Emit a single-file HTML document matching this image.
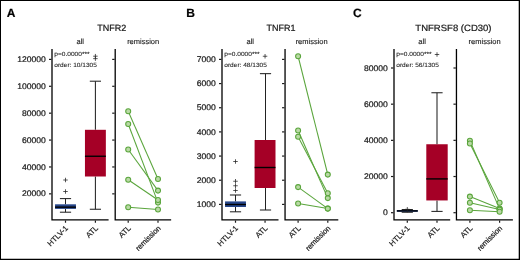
<!DOCTYPE html>
<html lang="en"><head><meta charset="utf-8"><title>TNFR2, TNFR1, TNFRSF8 (CD30)</title>
<style>html,body{margin:0;padding:0;background:#fff;}body{width:520px;height:260px;overflow:hidden;}svg{display:block;}text{text-rendering:geometricPrecision;stroke:#1a1a1a;stroke-width:0.22px;font-family:'Liberation Sans', Arial, Helvetica, sans-serif;}</style>
</head><body>
<svg width="520" height="260" viewBox="0 0 520 260">
<rect x="0" y="0" width="520" height="260" fill="#fff"/>
<text x="6.80" y="17" font-size="12" text-anchor="start" font-weight="bold" fill="#000" >A</text>
<text x="111.85" y="30.8" font-size="9" text-anchor="middle" font-weight="normal" fill="#1a1a1a" >TNFR2</text>
<text x="80.30" y="43.7" font-size="7.5" text-anchor="middle" font-weight="normal" fill="#1a1a1a" style="stroke-width:0.12px">all</text>
<text x="143.18" y="43.7" font-size="7.5" text-anchor="middle" font-weight="normal" fill="#1a1a1a" style="stroke-width:0.12px">remission</text>
<polyline points="52.0,48.9 52.0,219.85 108.6,219.85" fill="none" stroke="#000" stroke-width="1.3" stroke-linejoin="miter"/>
<line x1="49.00" y1="59.40" x2="51.40" y2="59.40" stroke="#1a1a1a" stroke-width="1.2"/>
<line x1="49.00" y1="86.29" x2="51.40" y2="86.29" stroke="#1a1a1a" stroke-width="1.2"/>
<line x1="49.00" y1="113.18" x2="51.40" y2="113.18" stroke="#1a1a1a" stroke-width="1.2"/>
<line x1="49.00" y1="140.07" x2="51.40" y2="140.07" stroke="#1a1a1a" stroke-width="1.2"/>
<line x1="49.00" y1="166.96" x2="51.40" y2="166.96" stroke="#1a1a1a" stroke-width="1.2"/>
<line x1="49.00" y1="193.85" x2="51.40" y2="193.85" stroke="#1a1a1a" stroke-width="1.2"/>
<polyline points="115.2,48.9 115.2,219.85 171.15,219.85" fill="none" stroke="#000" stroke-width="1.3" stroke-linejoin="miter"/>
<line x1="112.20" y1="59.40" x2="114.60" y2="59.40" stroke="#1a1a1a" stroke-width="1.2"/>
<line x1="112.20" y1="86.29" x2="114.60" y2="86.29" stroke="#1a1a1a" stroke-width="1.2"/>
<line x1="112.20" y1="113.18" x2="114.60" y2="113.18" stroke="#1a1a1a" stroke-width="1.2"/>
<line x1="112.20" y1="140.07" x2="114.60" y2="140.07" stroke="#1a1a1a" stroke-width="1.2"/>
<line x1="112.20" y1="166.96" x2="114.60" y2="166.96" stroke="#1a1a1a" stroke-width="1.2"/>
<line x1="112.20" y1="193.85" x2="114.60" y2="193.85" stroke="#1a1a1a" stroke-width="1.2"/>
<text transform="translate(45.9,62.00) scale(1.05,1)" font-size="8.2" text-anchor="end" fill="#1a1a1a">120000</text>
<text transform="translate(45.9,88.89) scale(1.05,1)" font-size="8.2" text-anchor="end" fill="#1a1a1a">100000</text>
<text transform="translate(45.9,115.78) scale(1.05,1)" font-size="8.2" text-anchor="end" fill="#1a1a1a">80000</text>
<text transform="translate(45.9,142.67) scale(1.05,1)" font-size="8.2" text-anchor="end" fill="#1a1a1a">60000</text>
<text transform="translate(45.9,169.56) scale(1.05,1)" font-size="8.2" text-anchor="end" fill="#1a1a1a">40000</text>
<text transform="translate(45.9,196.45) scale(1.05,1)" font-size="8.2" text-anchor="end" fill="#1a1a1a">20000</text>
<line x1="65.50" y1="220.45" x2="65.50" y2="222.75" stroke="#1a1a1a" stroke-width="1.2"/>
<line x1="95.40" y1="220.45" x2="95.40" y2="222.75" stroke="#1a1a1a" stroke-width="1.2"/>
<line x1="128.20" y1="220.45" x2="128.20" y2="222.75" stroke="#1a1a1a" stroke-width="1.2"/>
<line x1="158.00" y1="220.45" x2="158.00" y2="222.75" stroke="#1a1a1a" stroke-width="1.2"/>
<text transform="translate(68.6,228.7) rotate(-45)" font-size="7.7" text-anchor="end" fill="#1a1a1a">HTLV-1</text>
<text transform="translate(98.5,228.7) rotate(-45)" font-size="7.7" text-anchor="end" fill="#1a1a1a">ATL</text>
<text transform="translate(131.29999999999998,228.7) rotate(-45)" font-size="7.7" text-anchor="end" fill="#1a1a1a">ATL</text>
<text transform="translate(161.1,228.7) rotate(-45)" font-size="7.45" text-anchor="end" fill="#1a1a1a">remission</text>
<text x="54.30" y="55.8" font-size="6.15" text-anchor="start" font-weight="normal" fill="#1a1a1a" style="stroke-width:0.08px" textLength="35.3" lengthAdjust="spacingAndGlyphs">p=0.0000***</text>
<text x="54.30" y="67.1" font-size="6.15" text-anchor="start" font-weight="normal" fill="#1a1a1a" style="stroke-width:0.08px" textLength="42.6" lengthAdjust="spacingAndGlyphs">order: 10/1305</text>
<line x1="65.50" y1="198.60" x2="65.50" y2="204.30" stroke="#222" stroke-width="1.05"/>
<line x1="65.50" y1="208.90" x2="65.50" y2="212.20" stroke="#222" stroke-width="1.05"/>
<line x1="59.90" y1="198.60" x2="71.10" y2="198.60" stroke="#222" stroke-width="1.05"/>
<line x1="59.90" y1="212.20" x2="71.10" y2="212.20" stroke="#222" stroke-width="1.05"/>
<rect x="55.05" y="204.3" width="20.9" height="4.60" fill="#26468a"/>
<line x1="55.05" y1="207.15" x2="75.95" y2="207.15" stroke="#000" stroke-width="1.4"/>
<line x1="95.40" y1="81.20" x2="95.40" y2="129.80" stroke="#222" stroke-width="1.05"/>
<line x1="95.40" y1="176.50" x2="95.40" y2="209.25" stroke="#222" stroke-width="1.05"/>
<line x1="89.80" y1="81.20" x2="101.00" y2="81.20" stroke="#222" stroke-width="1.05"/>
<line x1="89.80" y1="209.25" x2="101.00" y2="209.25" stroke="#222" stroke-width="1.05"/>
<rect x="84.95" y="129.8" width="20.9" height="46.70" fill="#a50026"/>
<line x1="84.95" y1="156.25" x2="105.85" y2="156.25" stroke="#000" stroke-width="1.4"/>
<line x1="63.25" y1="180.00" x2="67.75" y2="180.00" stroke="#222" stroke-width="0.75"/>
<line x1="65.50" y1="177.75" x2="65.50" y2="182.25" stroke="#222" stroke-width="0.75"/>
<line x1="63.25" y1="191.50" x2="67.75" y2="191.50" stroke="#222" stroke-width="0.75"/>
<line x1="65.50" y1="189.25" x2="65.50" y2="193.75" stroke="#222" stroke-width="0.75"/>
<line x1="93.15" y1="56.20" x2="97.65" y2="56.20" stroke="#222" stroke-width="0.75"/>
<line x1="95.40" y1="53.95" x2="95.40" y2="58.45" stroke="#222" stroke-width="0.75"/>
<line x1="93.15" y1="58.65" x2="97.65" y2="58.65" stroke="#222" stroke-width="0.75"/>
<line x1="95.40" y1="56.40" x2="95.40" y2="60.90" stroke="#222" stroke-width="0.75"/>
<line x1="128.20" y1="111.20" x2="158.00" y2="179.00" stroke="#5aa53c" stroke-width="1.05"/>
<line x1="128.20" y1="124.00" x2="158.00" y2="202.60" stroke="#5aa53c" stroke-width="1.05"/>
<line x1="128.20" y1="149.50" x2="158.00" y2="190.60" stroke="#5aa53c" stroke-width="1.05"/>
<line x1="128.20" y1="179.70" x2="158.00" y2="200.00" stroke="#5aa53c" stroke-width="1.05"/>
<line x1="128.20" y1="207.30" x2="158.00" y2="209.50" stroke="#5aa53c" stroke-width="1.05"/>
<circle cx="128.2" cy="111.2" r="2.5" fill="#b9d9a5" stroke="#5aa53c" stroke-width="1.05"/>
<circle cx="158.0" cy="179" r="2.5" fill="#b9d9a5" stroke="#5aa53c" stroke-width="1.05"/>
<circle cx="128.2" cy="124" r="2.5" fill="#b9d9a5" stroke="#5aa53c" stroke-width="1.05"/>
<circle cx="158.0" cy="202.6" r="2.5" fill="#b9d9a5" stroke="#5aa53c" stroke-width="1.05"/>
<circle cx="128.2" cy="149.5" r="2.5" fill="#b9d9a5" stroke="#5aa53c" stroke-width="1.05"/>
<circle cx="158.0" cy="190.6" r="2.5" fill="#b9d9a5" stroke="#5aa53c" stroke-width="1.05"/>
<circle cx="128.2" cy="179.7" r="2.5" fill="#b9d9a5" stroke="#5aa53c" stroke-width="1.05"/>
<circle cx="158.0" cy="200" r="2.5" fill="#b9d9a5" stroke="#5aa53c" stroke-width="1.05"/>
<circle cx="128.2" cy="207.3" r="2.5" fill="#b9d9a5" stroke="#5aa53c" stroke-width="1.05"/>
<circle cx="158.0" cy="209.5" r="2.5" fill="#b9d9a5" stroke="#5aa53c" stroke-width="1.05"/>
<text x="186.20" y="17" font-size="12" text-anchor="start" font-weight="bold" fill="#000" >B</text>
<text x="281.00" y="30.8" font-size="9" text-anchor="middle" font-weight="normal" fill="#1a1a1a" >TNFR1</text>
<text x="250.25" y="43.7" font-size="7.5" text-anchor="middle" font-weight="normal" fill="#1a1a1a" style="stroke-width:0.12px">all</text>
<text x="311.68" y="43.7" font-size="7.5" text-anchor="middle" font-weight="normal" fill="#1a1a1a" style="stroke-width:0.12px">remission</text>
<polyline points="222.0,48.9 222.0,219.85 278.5,219.85" fill="none" stroke="#000" stroke-width="1.3" stroke-linejoin="miter"/>
<line x1="219.00" y1="59.40" x2="221.40" y2="59.40" stroke="#1a1a1a" stroke-width="1.2"/>
<line x1="219.00" y1="83.57" x2="221.40" y2="83.57" stroke="#1a1a1a" stroke-width="1.2"/>
<line x1="219.00" y1="107.73" x2="221.40" y2="107.73" stroke="#1a1a1a" stroke-width="1.2"/>
<line x1="219.00" y1="131.90" x2="221.40" y2="131.90" stroke="#1a1a1a" stroke-width="1.2"/>
<line x1="219.00" y1="156.07" x2="221.40" y2="156.07" stroke="#1a1a1a" stroke-width="1.2"/>
<line x1="219.00" y1="180.23" x2="221.40" y2="180.23" stroke="#1a1a1a" stroke-width="1.2"/>
<line x1="219.00" y1="204.40" x2="221.40" y2="204.40" stroke="#1a1a1a" stroke-width="1.2"/>
<polyline points="285.05,48.9 285.05,219.85 338.3,219.85" fill="none" stroke="#000" stroke-width="1.3" stroke-linejoin="miter"/>
<line x1="282.05" y1="59.40" x2="284.45" y2="59.40" stroke="#1a1a1a" stroke-width="1.2"/>
<line x1="282.05" y1="83.57" x2="284.45" y2="83.57" stroke="#1a1a1a" stroke-width="1.2"/>
<line x1="282.05" y1="107.73" x2="284.45" y2="107.73" stroke="#1a1a1a" stroke-width="1.2"/>
<line x1="282.05" y1="131.90" x2="284.45" y2="131.90" stroke="#1a1a1a" stroke-width="1.2"/>
<line x1="282.05" y1="156.07" x2="284.45" y2="156.07" stroke="#1a1a1a" stroke-width="1.2"/>
<line x1="282.05" y1="180.23" x2="284.45" y2="180.23" stroke="#1a1a1a" stroke-width="1.2"/>
<line x1="282.05" y1="204.40" x2="284.45" y2="204.40" stroke="#1a1a1a" stroke-width="1.2"/>
<text transform="translate(215.9,62.00) scale(1.05,1)" font-size="8.2" text-anchor="end" fill="#1a1a1a">7000</text>
<text transform="translate(215.9,86.17) scale(1.05,1)" font-size="8.2" text-anchor="end" fill="#1a1a1a">6000</text>
<text transform="translate(215.9,110.33) scale(1.05,1)" font-size="8.2" text-anchor="end" fill="#1a1a1a">5000</text>
<text transform="translate(215.9,134.50) scale(1.05,1)" font-size="8.2" text-anchor="end" fill="#1a1a1a">4000</text>
<text transform="translate(215.9,158.67) scale(1.05,1)" font-size="8.2" text-anchor="end" fill="#1a1a1a">3000</text>
<text transform="translate(215.9,182.83) scale(1.05,1)" font-size="8.2" text-anchor="end" fill="#1a1a1a">2000</text>
<text transform="translate(215.9,207.00) scale(1.05,1)" font-size="8.2" text-anchor="end" fill="#1a1a1a">1000</text>
<line x1="235.50" y1="220.45" x2="235.50" y2="222.75" stroke="#1a1a1a" stroke-width="1.2"/>
<line x1="265.05" y1="220.45" x2="265.05" y2="222.75" stroke="#1a1a1a" stroke-width="1.2"/>
<line x1="298.10" y1="220.45" x2="298.10" y2="222.75" stroke="#1a1a1a" stroke-width="1.2"/>
<line x1="327.80" y1="220.45" x2="327.80" y2="222.75" stroke="#1a1a1a" stroke-width="1.2"/>
<text transform="translate(238.6,228.7) rotate(-45)" font-size="7.7" text-anchor="end" fill="#1a1a1a">HTLV-1</text>
<text transform="translate(268.15000000000003,228.7) rotate(-45)" font-size="7.7" text-anchor="end" fill="#1a1a1a">ATL</text>
<text transform="translate(301.20000000000005,228.7) rotate(-45)" font-size="7.7" text-anchor="end" fill="#1a1a1a">ATL</text>
<text transform="translate(330.90000000000003,228.7) rotate(-45)" font-size="7.45" text-anchor="end" fill="#1a1a1a">remission</text>
<text x="224.30" y="55.8" font-size="6.15" text-anchor="start" font-weight="normal" fill="#1a1a1a" style="stroke-width:0.08px" textLength="35.3" lengthAdjust="spacingAndGlyphs">p=0.0000***</text>
<text x="224.30" y="67.1" font-size="6.15" text-anchor="start" font-weight="normal" fill="#1a1a1a" style="stroke-width:0.08px" textLength="42.6" lengthAdjust="spacingAndGlyphs">order: 48/1305</text>
<line x1="235.50" y1="195.00" x2="235.50" y2="201.40" stroke="#222" stroke-width="1.05"/>
<line x1="235.50" y1="207.00" x2="235.50" y2="211.80" stroke="#222" stroke-width="1.05"/>
<line x1="229.90" y1="195.00" x2="241.10" y2="195.00" stroke="#222" stroke-width="1.05"/>
<line x1="229.90" y1="211.80" x2="241.10" y2="211.80" stroke="#222" stroke-width="1.05"/>
<rect x="225.05" y="201.4" width="20.9" height="5.60" fill="#26468a"/>
<line x1="225.05" y1="204.50" x2="245.95" y2="204.50" stroke="#000" stroke-width="1.4"/>
<line x1="265.50" y1="73.65" x2="265.50" y2="140.00" stroke="#222" stroke-width="1.05"/>
<line x1="265.50" y1="188.00" x2="265.50" y2="210.00" stroke="#222" stroke-width="1.05"/>
<line x1="259.90" y1="73.65" x2="271.10" y2="73.65" stroke="#222" stroke-width="1.05"/>
<line x1="259.90" y1="210.00" x2="271.10" y2="210.00" stroke="#222" stroke-width="1.05"/>
<rect x="254.60" y="140" width="20.9" height="48.00" fill="#a50026"/>
<line x1="254.60" y1="167.50" x2="275.50" y2="167.50" stroke="#000" stroke-width="1.4"/>
<line x1="233.25" y1="161.50" x2="237.75" y2="161.50" stroke="#222" stroke-width="0.75"/>
<line x1="235.50" y1="159.25" x2="235.50" y2="163.75" stroke="#222" stroke-width="0.75"/>
<line x1="233.25" y1="181.25" x2="237.75" y2="181.25" stroke="#222" stroke-width="0.75"/>
<line x1="235.50" y1="179.00" x2="235.50" y2="183.50" stroke="#222" stroke-width="0.75"/>
<line x1="233.25" y1="185.75" x2="237.75" y2="185.75" stroke="#222" stroke-width="0.75"/>
<line x1="235.50" y1="183.50" x2="235.50" y2="188.00" stroke="#222" stroke-width="0.75"/>
<line x1="233.25" y1="190.50" x2="237.75" y2="190.50" stroke="#222" stroke-width="0.75"/>
<line x1="235.50" y1="188.25" x2="235.50" y2="192.75" stroke="#222" stroke-width="0.75"/>
<line x1="262.80" y1="56.25" x2="267.30" y2="56.25" stroke="#222" stroke-width="0.75"/>
<line x1="265.05" y1="54.00" x2="265.05" y2="58.50" stroke="#222" stroke-width="0.75"/>
<line x1="298.10" y1="56.25" x2="327.80" y2="174.60" stroke="#5aa53c" stroke-width="1.05"/>
<line x1="298.10" y1="130.50" x2="327.80" y2="198.10" stroke="#5aa53c" stroke-width="1.05"/>
<line x1="298.10" y1="136.75" x2="327.80" y2="193.30" stroke="#5aa53c" stroke-width="1.05"/>
<line x1="298.10" y1="187.10" x2="327.80" y2="208.60" stroke="#5aa53c" stroke-width="1.05"/>
<line x1="298.10" y1="203.50" x2="327.80" y2="208.60" stroke="#5aa53c" stroke-width="1.05"/>
<circle cx="298.1" cy="56.25" r="2.5" fill="#b9d9a5" stroke="#5aa53c" stroke-width="1.05"/>
<circle cx="327.8" cy="174.6" r="2.5" fill="#b9d9a5" stroke="#5aa53c" stroke-width="1.05"/>
<circle cx="298.1" cy="130.5" r="2.5" fill="#b9d9a5" stroke="#5aa53c" stroke-width="1.05"/>
<circle cx="327.8" cy="198.1" r="2.5" fill="#b9d9a5" stroke="#5aa53c" stroke-width="1.05"/>
<circle cx="298.1" cy="136.75" r="2.5" fill="#b9d9a5" stroke="#5aa53c" stroke-width="1.05"/>
<circle cx="327.8" cy="193.3" r="2.5" fill="#b9d9a5" stroke="#5aa53c" stroke-width="1.05"/>
<circle cx="298.1" cy="187.1" r="2.5" fill="#b9d9a5" stroke="#5aa53c" stroke-width="1.05"/>
<circle cx="327.8" cy="208.6" r="2.5" fill="#b9d9a5" stroke="#5aa53c" stroke-width="1.05"/>
<circle cx="298.1" cy="203.5" r="2.5" fill="#b9d9a5" stroke="#5aa53c" stroke-width="1.05"/>
<circle cx="327.8" cy="208.6" r="2.5" fill="#b9d9a5" stroke="#5aa53c" stroke-width="1.05"/>
<text x="352.90" y="17" font-size="12" text-anchor="start" font-weight="bold" fill="#000" >C</text>
<text x="453.45" y="30.8" font-size="9.1" text-anchor="middle" font-weight="normal" fill="#1a1a1a" textLength="76.2" lengthAdjust="spacingAndGlyphs">TNFRSF8 (CD30)</text>
<text x="422.10" y="43.7" font-size="7.5" text-anchor="middle" font-weight="normal" fill="#1a1a1a" style="stroke-width:0.12px">all</text>
<text x="484.67" y="43.7" font-size="7.5" text-anchor="middle" font-weight="normal" fill="#1a1a1a" style="stroke-width:0.12px">remission</text>
<polyline points="394.0,48.9 394.0,219.85 450.2,219.85" fill="none" stroke="#000" stroke-width="1.3" stroke-linejoin="miter"/>
<line x1="391.00" y1="68.00" x2="393.40" y2="68.00" stroke="#1a1a1a" stroke-width="1.2"/>
<line x1="391.00" y1="104.17" x2="393.40" y2="104.17" stroke="#1a1a1a" stroke-width="1.2"/>
<line x1="391.00" y1="140.35" x2="393.40" y2="140.35" stroke="#1a1a1a" stroke-width="1.2"/>
<line x1="391.00" y1="176.52" x2="393.40" y2="176.52" stroke="#1a1a1a" stroke-width="1.2"/>
<line x1="391.00" y1="212.70" x2="393.40" y2="212.70" stroke="#1a1a1a" stroke-width="1.2"/>
<polyline points="456.45,48.9 456.45,219.85 512.9,219.85" fill="none" stroke="#000" stroke-width="1.3" stroke-linejoin="miter"/>
<line x1="453.45" y1="68.00" x2="455.85" y2="68.00" stroke="#1a1a1a" stroke-width="1.2"/>
<line x1="453.45" y1="104.17" x2="455.85" y2="104.17" stroke="#1a1a1a" stroke-width="1.2"/>
<line x1="453.45" y1="140.35" x2="455.85" y2="140.35" stroke="#1a1a1a" stroke-width="1.2"/>
<line x1="453.45" y1="176.52" x2="455.85" y2="176.52" stroke="#1a1a1a" stroke-width="1.2"/>
<line x1="453.45" y1="212.70" x2="455.85" y2="212.70" stroke="#1a1a1a" stroke-width="1.2"/>
<text transform="translate(387.8,70.60) scale(1.05,1)" font-size="8.2" text-anchor="end" fill="#1a1a1a">80000</text>
<text transform="translate(387.8,106.77) scale(1.05,1)" font-size="8.2" text-anchor="end" fill="#1a1a1a">60000</text>
<text transform="translate(387.8,142.95) scale(1.05,1)" font-size="8.2" text-anchor="end" fill="#1a1a1a">40000</text>
<text transform="translate(387.8,179.12) scale(1.05,1)" font-size="8.2" text-anchor="end" fill="#1a1a1a">20000</text>
<text transform="translate(387.8,215.30) scale(1.05,1)" font-size="8.2" text-anchor="end" fill="#1a1a1a">0</text>
<line x1="407.30" y1="220.45" x2="407.30" y2="222.75" stroke="#1a1a1a" stroke-width="1.2"/>
<line x1="437.00" y1="220.45" x2="437.00" y2="222.75" stroke="#1a1a1a" stroke-width="1.2"/>
<line x1="469.90" y1="220.45" x2="469.90" y2="222.75" stroke="#1a1a1a" stroke-width="1.2"/>
<line x1="499.60" y1="220.45" x2="499.60" y2="222.75" stroke="#1a1a1a" stroke-width="1.2"/>
<text transform="translate(410.40000000000003,228.7) rotate(-45)" font-size="7.7" text-anchor="end" fill="#1a1a1a">HTLV-1</text>
<text transform="translate(440.1,228.7) rotate(-45)" font-size="7.7" text-anchor="end" fill="#1a1a1a">ATL</text>
<text transform="translate(473.0,228.7) rotate(-45)" font-size="7.7" text-anchor="end" fill="#1a1a1a">ATL</text>
<text transform="translate(502.70000000000005,228.7) rotate(-45)" font-size="7.45" text-anchor="end" fill="#1a1a1a">remission</text>
<text x="396.30" y="55.8" font-size="6.15" text-anchor="start" font-weight="normal" fill="#1a1a1a" style="stroke-width:0.08px" textLength="35.3" lengthAdjust="spacingAndGlyphs">p=0.0000***</text>
<text x="396.30" y="67.1" font-size="6.15" text-anchor="start" font-weight="normal" fill="#1a1a1a" style="stroke-width:0.08px" textLength="42.6" lengthAdjust="spacingAndGlyphs">order: 56/1305</text>
<line x1="407.30" y1="209.55" x2="407.30" y2="210.00" stroke="#222" stroke-width="1.05"/>
<line x1="407.30" y1="211.85" x2="407.30" y2="212.25" stroke="#222" stroke-width="1.05"/>
<line x1="401.70" y1="209.55" x2="412.90" y2="209.55" stroke="#222" stroke-width="1.05"/>
<line x1="401.70" y1="212.25" x2="412.90" y2="212.25" stroke="#222" stroke-width="1.05"/>
<rect x="396.85" y="210.0" width="20.9" height="1.85" fill="#26468a"/>
<line x1="396.85" y1="210.90" x2="417.75" y2="210.90" stroke="#000" stroke-width="1.4"/>
<line x1="437.00" y1="92.75" x2="437.00" y2="144.25" stroke="#222" stroke-width="1.05"/>
<line x1="437.00" y1="200.45" x2="437.00" y2="211.40" stroke="#222" stroke-width="1.05"/>
<line x1="431.40" y1="92.75" x2="442.60" y2="92.75" stroke="#222" stroke-width="1.05"/>
<line x1="431.40" y1="211.40" x2="442.60" y2="211.40" stroke="#222" stroke-width="1.05"/>
<rect x="426.30" y="144.25" width="21.4" height="56.20" fill="#a50026"/>
<line x1="426.30" y1="178.90" x2="447.70" y2="178.90" stroke="#000" stroke-width="1.4"/>
<line x1="405.05" y1="209.30" x2="409.55" y2="209.30" stroke="#222" stroke-width="0.75"/>
<line x1="407.30" y1="207.05" x2="407.30" y2="211.55" stroke="#222" stroke-width="0.75"/>
<line x1="434.75" y1="54.50" x2="439.25" y2="54.50" stroke="#222" stroke-width="0.75"/>
<line x1="437.00" y1="52.25" x2="437.00" y2="56.75" stroke="#222" stroke-width="0.75"/>
<line x1="469.90" y1="140.80" x2="499.60" y2="208.90" stroke="#5aa53c" stroke-width="1.05"/>
<line x1="469.90" y1="143.50" x2="499.60" y2="202.80" stroke="#5aa53c" stroke-width="1.05"/>
<line x1="469.90" y1="196.60" x2="499.60" y2="208.60" stroke="#5aa53c" stroke-width="1.05"/>
<line x1="469.90" y1="202.80" x2="499.60" y2="209.60" stroke="#5aa53c" stroke-width="1.05"/>
<line x1="469.90" y1="210.30" x2="499.60" y2="211.80" stroke="#5aa53c" stroke-width="1.05"/>
<circle cx="469.9" cy="140.8" r="2.5" fill="#b9d9a5" stroke="#5aa53c" stroke-width="1.05"/>
<circle cx="499.6" cy="208.9" r="2.5" fill="#b9d9a5" stroke="#5aa53c" stroke-width="1.05"/>
<circle cx="469.9" cy="143.5" r="2.5" fill="#b9d9a5" stroke="#5aa53c" stroke-width="1.05"/>
<circle cx="499.6" cy="202.8" r="2.5" fill="#b9d9a5" stroke="#5aa53c" stroke-width="1.05"/>
<circle cx="469.9" cy="196.6" r="2.5" fill="#b9d9a5" stroke="#5aa53c" stroke-width="1.05"/>
<circle cx="499.6" cy="208.6" r="2.5" fill="#b9d9a5" stroke="#5aa53c" stroke-width="1.05"/>
<circle cx="469.9" cy="202.8" r="2.5" fill="#b9d9a5" stroke="#5aa53c" stroke-width="1.05"/>
<circle cx="499.6" cy="209.6" r="2.5" fill="#b9d9a5" stroke="#5aa53c" stroke-width="1.05"/>
<circle cx="469.9" cy="210.3" r="2.5" fill="#b9d9a5" stroke="#5aa53c" stroke-width="1.05"/>
<circle cx="499.6" cy="211.8" r="2.5" fill="#b9d9a5" stroke="#5aa53c" stroke-width="1.05"/>
<rect x="0.5" y="0.5" width="519" height="259" fill="none" stroke="#000" stroke-width="1"/>
<line x1="0" y1="259.35" x2="520" y2="259.35" stroke="#000" stroke-width="1.3"/>
<line x1="519.35" y1="0" x2="519.35" y2="260" stroke="#000" stroke-width="1.3"/>
</svg></body></html>
